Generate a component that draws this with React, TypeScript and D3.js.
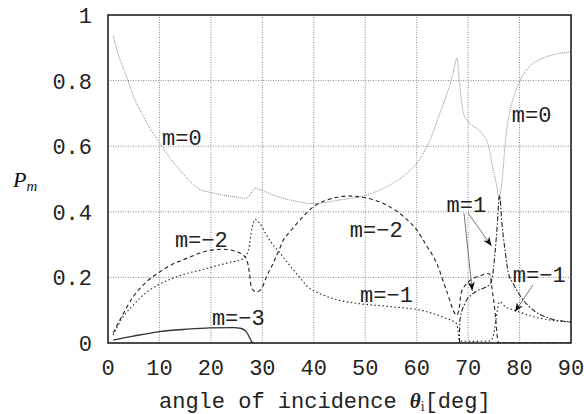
import React from 'react';
import * as d3 from 'd3';

// angle of incidence [deg] and diffraction efficiency per order
const m0Angle = [1, 2, 3.6, 5, 6.9, 8.5, 10.1, 12, 14, 16, 17.9, 20, 22, 24.4, 26.9, 27.6, 28.6, 29.5, 32.1, 36, 40, 45, 50.3, 54.8, 57.5, 60, 62.6, 64.5, 66.5, 67.2, 67.8, 68.4, 69.1, 70, 70.7, 72.6, 73.9, 74.9, 75.6, 76.1, 76.3, 76.8, 77.2, 77.8, 78.5, 80, 81.9, 84.5, 87.2, 90];
const m0Value = [0.936, 0.88, 0.812, 0.75, 0.69, 0.645, 0.609, 0.565, 0.527, 0.492, 0.468, 0.459, 0.452, 0.446, 0.441, 0.452, 0.472, 0.468, 0.451, 0.434, 0.425, 0.436, 0.451, 0.482, 0.51, 0.548, 0.619, 0.7, 0.79, 0.83, 0.868, 0.78, 0.7, 0.675, 0.665, 0.64, 0.604, 0.527, 0.477, 0.435, 0.456, 0.527, 0.609, 0.68, 0.73, 0.797, 0.842, 0.868, 0.881, 0.887];

const mM1Angle = [1, 2.5, 4.9, 7.5, 10.1, 12.5, 15.3, 17.9, 20.5, 23.5, 26.3, 27.3, 28, 28.6, 29.5, 30.8, 31.8, 33.4, 35.4, 37, 38.6, 41.9, 45, 48.3, 54.8, 61.3, 65.2, 67.8, 68.1, 68.3, 71, 74.3, 75, 75.5, 76.1, 77.2, 79.4, 82.7, 85.9, 90];
const mM1Value = [0.024, 0.07, 0.115, 0.155, 0.18, 0.197, 0.212, 0.222, 0.233, 0.245, 0.257, 0.284, 0.35, 0.377, 0.365, 0.329, 0.305, 0.275, 0.235, 0.205, 0.175, 0.146, 0.13, 0.121, 0.111, 0.098, 0.078, 0.058, 0.03, 0.006, 0.005, 0.006, 0.03, 0.08, 0.126, 0.111, 0.098, 0.08, 0.07, 0.064];

const mM2Angle = [1, 2.3, 4.9, 7.5, 10.1, 12.5, 15.3, 18, 20.5, 22.5, 24.4, 26.3, 27, 27.5, 27.9, 28.9, 29.9, 30.8, 32.1, 33.4, 34.1, 35.4, 37.3, 40, 43, 46.7, 50.3, 54.8, 57.5, 60, 62, 63.9, 65.8, 67.8, 68.2, 68.7, 71, 72.5, 73.9, 74.3, 74.6, 75.2, 75.9, 90];
const mM2Value = [0.03, 0.07, 0.141, 0.187, 0.217, 0.24, 0.258, 0.275, 0.284, 0.286, 0.281, 0.268, 0.253, 0.213, 0.167, 0.156, 0.167, 0.202, 0.243, 0.289, 0.314, 0.34, 0.375, 0.416, 0.438, 0.448, 0.442, 0.415, 0.385, 0.345, 0.295, 0.243, 0.16, 0.085, 0.1, 0.156, 0.197, 0.206, 0.212, 0.207, 0.172, 0.1, 0, 0];

const m1Angle = [68.3, 68.4, 69.4, 71, 73.6, 74.3, 74.8, 75.2, 75.6, 76.1, 76.6, 77.2, 77.8, 78.8, 80.7, 82.7, 85.9, 90];
const m1Value = [0, 0.07, 0.121, 0.151, 0.172, 0.18, 0.21, 0.27, 0.345, 0.45, 0.36, 0.28, 0.215, 0.18, 0.131, 0.1, 0.075, 0.064];

const mM3Angle = [1, 4.9, 10.1, 15.3, 19.8, 24.4, 25.7, 26.5, 27, 27.5, 27.9, 28.1];
const mM3Value = [0.009, 0.021, 0.035, 0.042, 0.046, 0.047, 0.045, 0.04, 0.032, 0.017, 0.005, 0];

const xTicks = [0, 10, 20, 30, 40, 50, 60, 70, 80, 90];
const yTicks = [0, 0.2, 0.4, 0.6, 0.8, 1];
const yTickLabels = ['0', '0.2', '0.4', '0.6', '0.8', '1'];

// label text, anchor angle, anchor value
const labelText = ['m=0', 'm=0', 'm=−2', 'm=−2', 'm=−1', 'm=1', 'm=−1', 'm=−3'];
const labelAngle = [10.5, 78.5, 13.0, 47.0, 49.0, 65.8, 78.7, 20.2];
const labelValue = [0.604, 0.674, 0.293, 0.323, 0.125, 0.4, 0.186, 0.055];

// annotation arrows: from (angle, value) to (angle, value)
const arrowFrom = [[69.2, 0.396], [70.0, 0.396], [82.6, 0.177]];
const arrowTo = [[70.8, 0.159], [74.55, 0.296], [79.1, 0.095]];

const W = 584;
const H = 414;
const margin = {left: 108, right: 13, top: 15, bottom: 71};

const series = [
    {angle: m0Angle, value: m0Value, color: '#8a8a8a', dash: '1 1', width: 1},
    {angle: mM1Angle, value: mM1Value, color: '#222', dash: '1.5 2.5', width: 1.1},
    {angle: mM2Angle, value: mM2Value, color: '#222', dash: '4 3', width: 1.1},
    {angle: m1Angle, value: m1Value, color: '#222', dash: '5 2 1.5 2', width: 1.1},
    {angle: mM3Angle, value: mM3Value, color: '#333', dash: null, width: 1.3},
];

export default function App() {
    const x = d3.scaleLinear().domain([0, 90]).range([margin.left, W - margin.right]);
    const y = d3.scaleLinear().domain([0, 1]).range([H - margin.bottom, margin.top]);

    const line = d3.line<[number, number]>()
        .x(d => x(d[0]))
        .y(d => y(d[1]))
        .curve(d3.curveMonotoneX);

    const mono = '"Liberation Mono", "Courier New", monospace';
    const serif = '"Liberation Serif", "Times New Roman", serif';

    return (
        <svg width={W} height={H} style={{position: 'absolute', left: 0, top: 0, background: '#fff'}}>
            <defs>
                <marker id="arrow" viewBox="0 0 10 10" refX="10" refY="5" markerWidth="9" markerHeight="9"
                        orient="auto" markerUnits="userSpaceOnUse">
                    <path d="M0,1 L10,5 L0,9 L3,5 z" fill="#111"/>
                </marker>
                <clipPath id="plot">
                    <rect x={x(0)} y={y(1)} width={x(90) - x(0)} height={y(0) - y(1)}/>
                </clipPath>
            </defs>

            {/* grid */}
            <g stroke="#888" strokeWidth={1} strokeDasharray="1 1.5">
                {xTicks.slice(1, -1).map(t => (
                    <line key={'gx' + t} x1={x(t)} x2={x(t)} y1={y(0)} y2={y(1)}/>
                ))}
                {yTicks.slice(1, -1).map(t => (
                    <line key={'gy' + t} x1={x(0)} x2={x(90)} y1={y(t)} y2={y(t)}/>
                ))}
            </g>

            {/* curves */}
            <g clipPath="url(#plot)" fill="none">
                {series.map((s, i) => (
                    <path key={i}
                          d={line(s.angle.map((a, j) => [a, s.value[j]] as [number, number])) || ''}
                          stroke={s.color}
                          strokeWidth={s.width}
                          strokeDasharray={s.dash || undefined}/>
                ))}
            </g>

            {/* frame */}
            <rect x={x(0)} y={y(1)} width={x(90) - x(0)} height={y(0) - y(1)}
                  fill="none" stroke="#111" strokeWidth={1.5}/>

            {/* tick labels */}
            <g fontFamily={mono} fontSize={22} fill="#222">
                {xTicks.map(t => (
                    <text key={'tx' + t} x={x(t)} y={y(0) + 32} textAnchor="middle">{t}</text>
                ))}
                {yTicks.map((t, i) => (
                    <text key={'ty' + t} x={x(0) - 16} y={y(t) + 8} textAnchor="end">{yTickLabels[i]}</text>
                ))}
            </g>

            {/* axis titles */}
            <text x={159} y={408} fontFamily={mono} fontSize={22} fill="#222">
                angle of incidence{' '}
                <tspan fontFamily={serif} fontStyle="italic" fontWeight="bold" fontSize={21}>θ</tspan>
                <tspan fontFamily={serif} fontSize={14} dy={3}>i</tspan>
                <tspan dy={-3}>[deg]</tspan>
            </text>
            <text x={13} y={187} fontFamily={serif} fontStyle="italic" fontSize={22} fill="#111">
                P<tspan fontSize={15} dy={4}>m</tspan>
            </text>

            {/* arrows */}
            <g stroke="#777" strokeWidth={1}>
                {arrowFrom.map((f, i) => (
                    <line key={'a' + i} x1={x(f[0])} y1={y(f[1])} x2={x(arrowTo[i][0])} y2={y(arrowTo[i][1])}
                          markerEnd="url(#arrow)"/>
                ))}
            </g>

            {/* curve labels */}
            <g fontFamily={mono} fontSize={22} fill="#222">
                {labelText.map((t, i) => (
                    <text key={'l' + i} x={x(labelAngle[i])} y={y(labelValue[i])}>{t}</text>
                ))}
            </g>
        </svg>
    );
}
